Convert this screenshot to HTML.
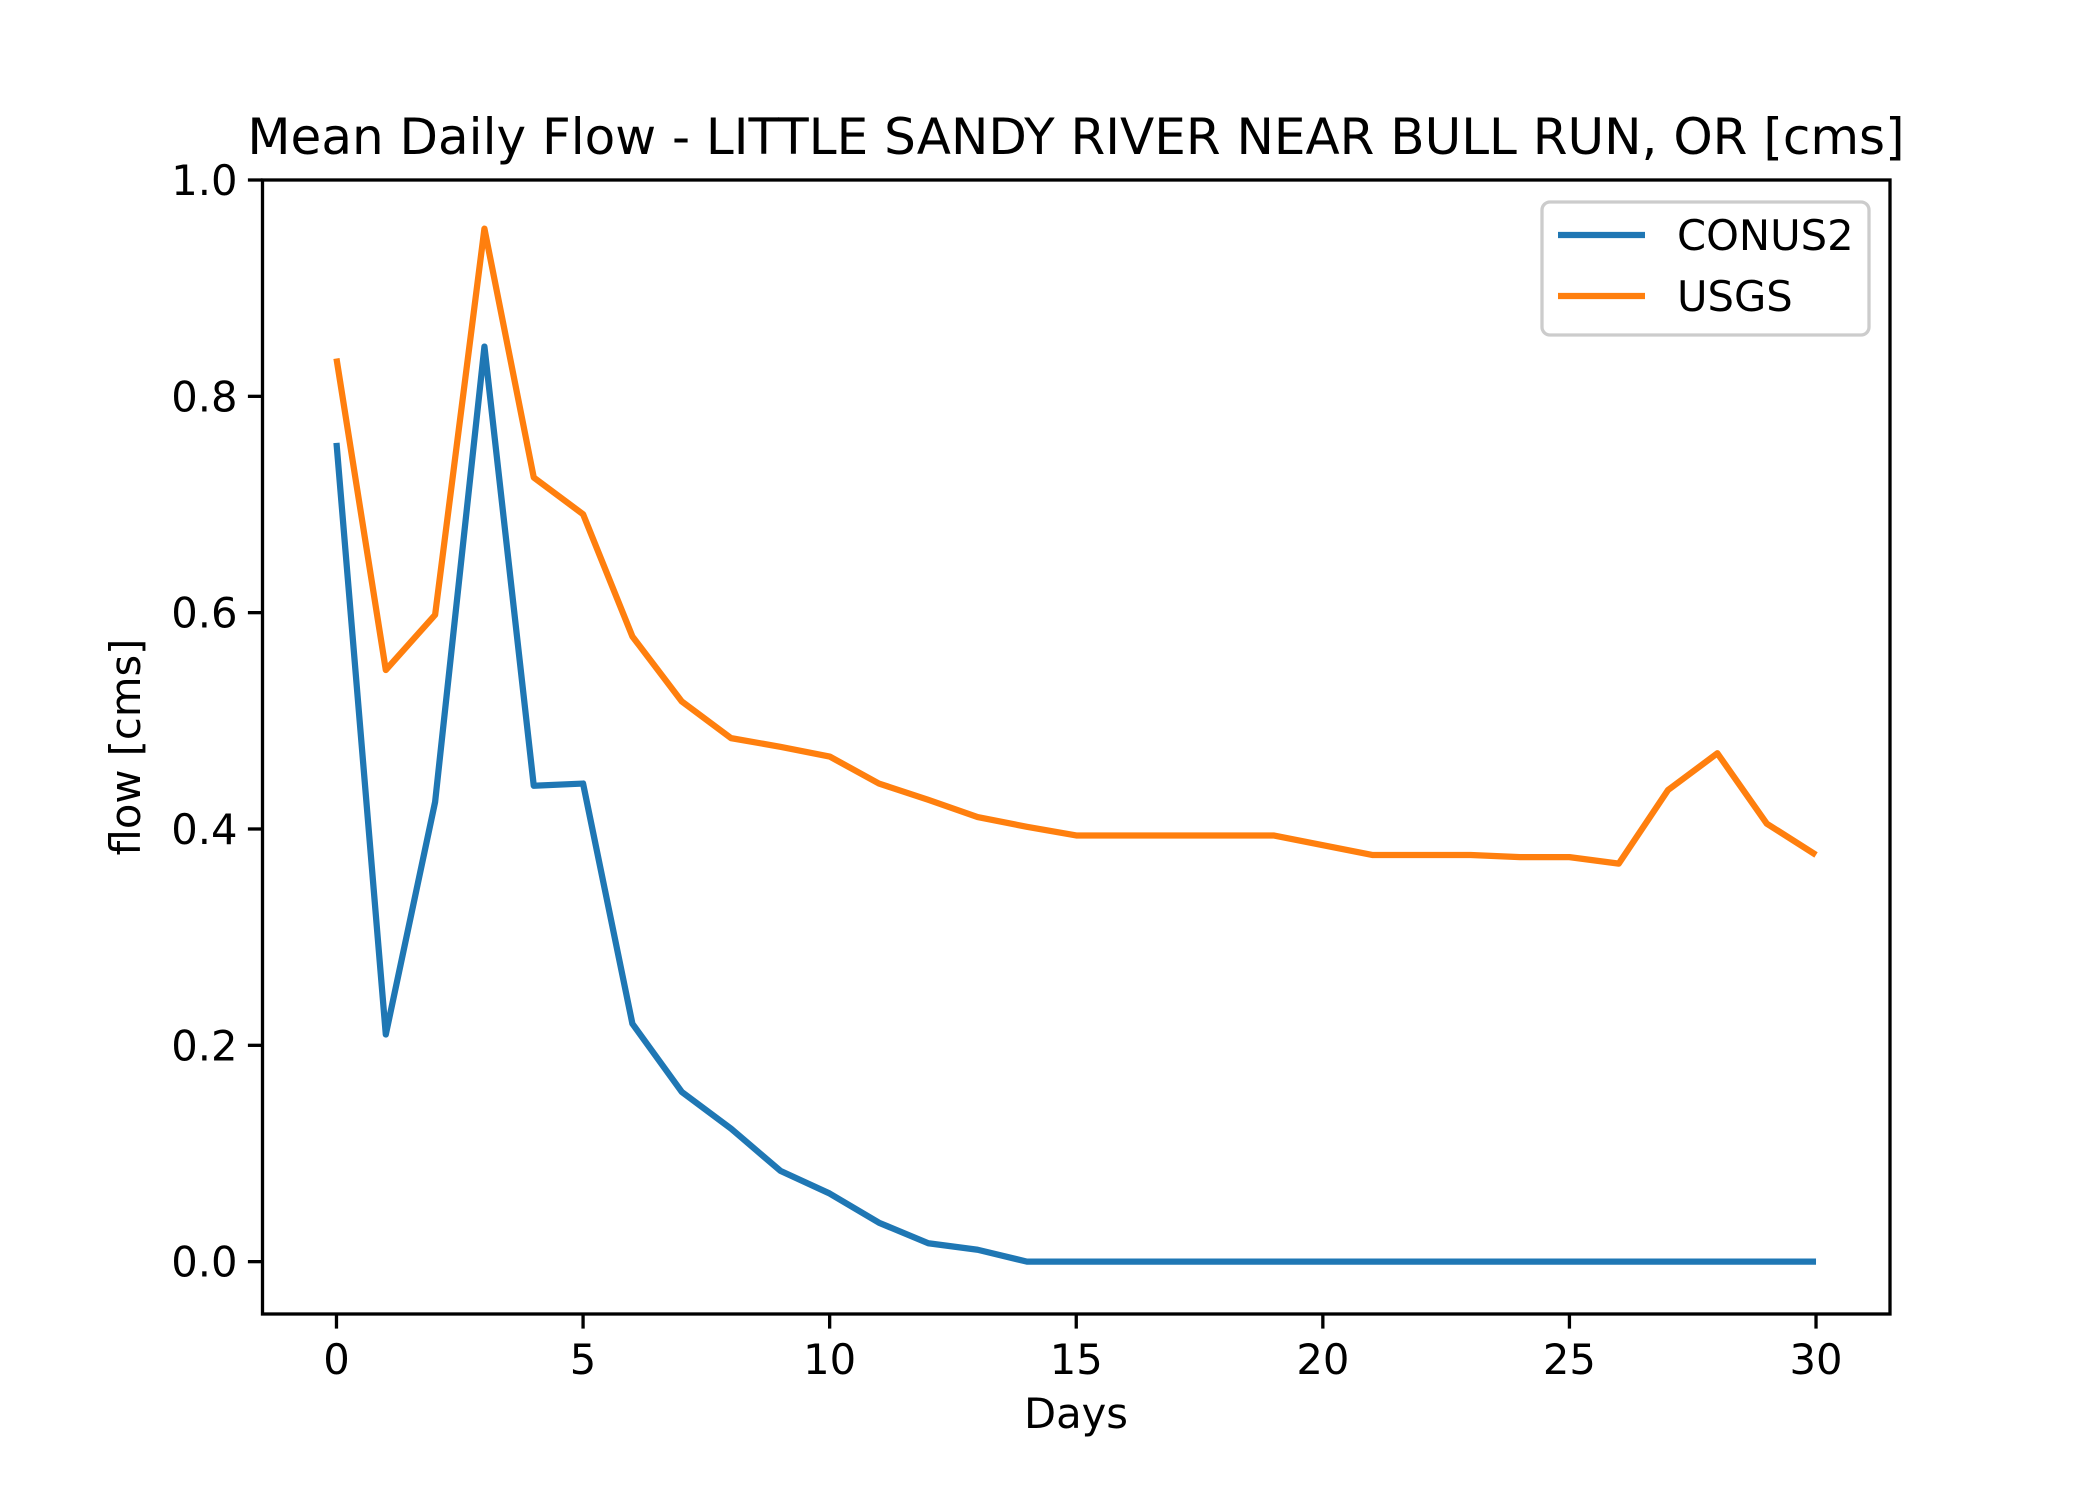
<!DOCTYPE html>
<html><head><meta charset="utf-8"><style>
body{margin:0;background:#fff}
svg{display:block;font-family:"DejaVu Sans","Liberation Sans",sans-serif}
</style></head><body>
<svg id="chart" width="2100" height="1500" viewBox="0 0 2100 1500" xmlns="http://www.w3.org/2000/svg">
<rect width="2100" height="1500" fill="#fff"/>
<text x="1076" y="154" font-size="50" text-anchor="middle">Mean Daily Flow - LITTLE SANDY RIVER NEAR BULL RUN, OR [cms]</text>
<g id="series"></g>
<rect x="262.5" y="180" width="1627.5" height="1134" fill="none" stroke="#000" stroke-width="3.3"/>
<g id="axes"></g>
<text x="1076" y="1428" font-size="41.7" text-anchor="middle">Days</text>
<text transform="translate(140,747) rotate(-90)" font-size="41.7" text-anchor="middle">flow [cms]</text>
<g>
<rect x="1542" y="202" width="327" height="133" rx="8" fill="#fff" fill-opacity="0.8" stroke="#ccc" stroke-width="3.3"/>
<line x1="1558" y1="235" x2="1645" y2="235" stroke="#1f77b4" stroke-width="6.25"/>
<text x="1677" y="250" font-size="41.7">CONUS2</text>
<line x1="1558" y1="296" x2="1645" y2="296" stroke="#ff7f0e" stroke-width="6.25"/>
<text x="1677" y="311" font-size="41.7">USGS</text>
</g>
</svg>
<script>
const days = Array.from({length:31},(_, i)=>i);
const conus2 = [0.757,0.21,0.425,0.846,0.44,0.442,0.22,0.157,0.123,0.084,0.063,0.036,0.017,0.011,0,0,0,0,0,0,0,0,0,0,0,0,0,0,0,0,0];
const usgs = [0.835,0.547,0.598,0.955,0.725,0.691,0.578,0.518,0.484,0.476,0.467,0.442,0.427,0.411,0.402,0.394,0.394,0.394,0.394,0.394,0.385,0.376,0.376,0.376,0.374,0.374,0.368,0.436,0.47,0.405,0.376];
const xTicks = [0,5,10,15,20,25,30];
const yTicks = [0.0,0.2,0.4,0.6,0.8,1.0];
const NS="http://www.w3.org/2000/svg";
const L=262.5,R=1890,T=180,B=1314;
const xmin=-1.5,xmax=31.5,ymin=-0.0484,ymax=1.0;
const sx=v=>L+(v-xmin)/(xmax-xmin)*(R-L);
const sy=v=>B-(v-ymin)/(ymax-ymin)*(B-T);
const axes=document.getElementById('axes'), ser=document.getElementById('series');
function mk(tag,attrs,parent){const e=document.createElementNS(NS,tag);for(const k in attrs)e.setAttribute(k,attrs[k]);parent.appendChild(e);return e;}
xTicks.forEach(t=>{
  const l=mk('line',{x1:sx(t),x2:sx(t),y1:B,y2:B+14.6,stroke:'#000','stroke-width':3.3},axes);
  
  
  const tx=mk('text',{x:sx(t),y:B+60,'font-size':41.7,'text-anchor':'middle'},axes);
  tx.textContent=t;
  
  
});
yTicks.forEach(t=>{
  const l=mk('line',{x1:L-14.6,x2:L,y1:sy(t),y2:sy(t),stroke:'#000','stroke-width':3.3},axes);
  
  
  const tx=mk('text',{x:L-25,y:sy(t)+15,'font-size':41.7,'text-anchor':'end'},axes);
  tx.textContent=t.toFixed(1);
  
  
});
function line(vals,color,name){
  const p=mk('polyline',{points:vals.map((v,i)=>sx(days[i])+','+sy(v)).join(' '),fill:'none',stroke:color,'stroke-width':6.25,'stroke-linejoin':'round'},ser);
  
  
}
line(conus2,'#1f77b4','conus2-line');
line(usgs,'#ff7f0e','usgs-line');
</script>
</body></html>
